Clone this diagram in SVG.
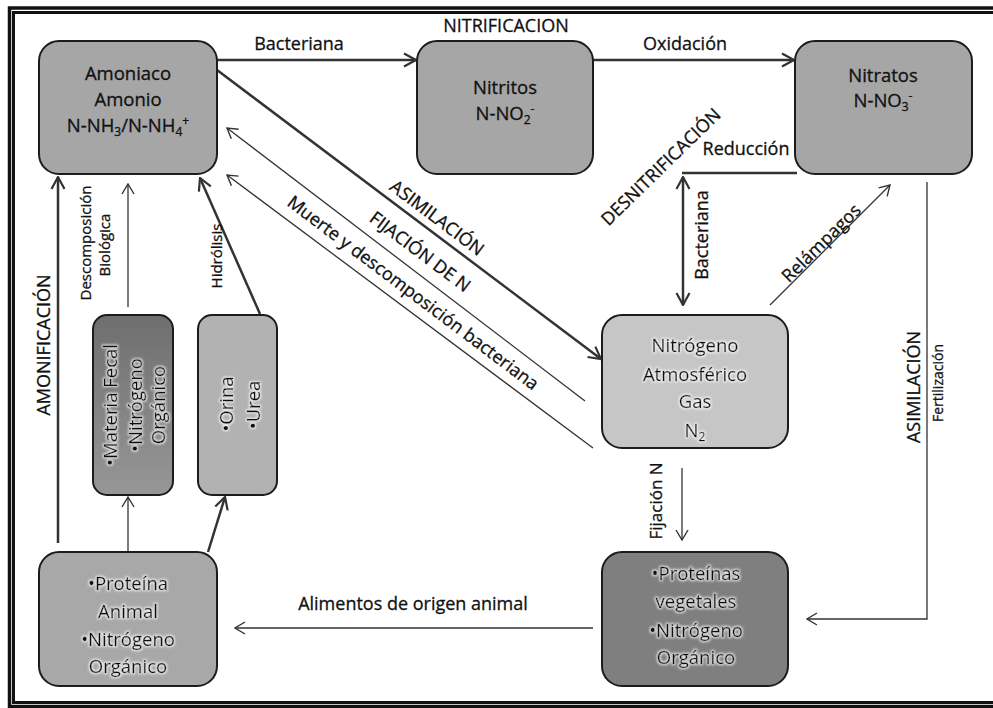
<svg xmlns="http://www.w3.org/2000/svg" width="993" height="708" viewBox="0 0 993 708">
<style>
.node rect{stroke:#1c1c1c;stroke-width:2}
.t{font-family:"Open Sans","Liberation Sans",sans-serif;font-size:18px;fill:#111;stroke:#111;stroke-width:0.3px;text-anchor:middle}
.n{font-size:18.5px}
.s15{font-size:15px}
.s14{font-size:14px}
.s17{font-size:17px}
.sub{font-size:12px}
.c{fill:none;stroke:#333;stroke-linecap:butt}
.thick{stroke-width:2.5}
.thin{stroke-width:1.3}
.frame{fill:none;stroke:#111}
</style>
<defs>
<marker id="ah" viewBox="0 0 14 16" refX="13" refY="8" markerWidth="14" markerHeight="16" orient="auto-start-reverse" markerUnits="userSpaceOnUse">
<path d="M1,1.5 L13,8 L1,14.5" fill="none" stroke="#333" stroke-width="2.2"/>
</marker>
<marker id="at" viewBox="0 0 12 14" refX="11" refY="7" markerWidth="12" markerHeight="14" orient="auto-start-reverse" markerUnits="userSpaceOnUse">
<path d="M1,1 L11,7 L1,13" fill="none" stroke="#333" stroke-width="1.4"/>
</marker>
<linearGradient id="gfecal" x1="0" y1="0" x2="0" y2="1">
<stop offset="0" stop-color="#6e6e6e"/>
<stop offset="1" stop-color="#979797"/>
</linearGradient>
<filter id="glow" x="-10%" y="-30%" width="120%" height="160%">
<feMorphology in="SourceAlpha" operator="dilate" radius="1" result="d"/>
<feGaussianBlur in="d" stdDeviation="1.2" result="b"/>
<feFlood flood-color="#ffffff" flood-opacity="0.75"/>
<feComposite in2="b" operator="in" result="g"/>
<feMerge><feMergeNode in="g"/><feMergeNode in="SourceGraphic"/></feMerge>
</filter>
</defs>
<rect x="0" y="0" width="993" height="708" fill="#fff"/>

<g id="connectors">
<line class="c thick" x1="217" y1="60" x2="416" y2="60" marker-end="url(#ah)"/>
<line class="c thick" x1="593" y1="60" x2="794" y2="60" marker-end="url(#ah)"/>
<line class="c thick" x1="217" y1="70" x2="601" y2="359" marker-end="url(#ah)"/>
<line class="c thin" x1="585" y1="401" x2="227" y2="128" marker-end="url(#at)"/>
<line class="c thin" x1="593" y1="448" x2="227" y2="175" marker-end="url(#at)"/>
<line class="c thick" x1="797" y1="173" x2="682" y2="173"/>
<line class="c thick" x1="683" y1="177" x2="683" y2="305" marker-start="url(#ah)" marker-end="url(#ah)"/>
<line class="c thin" x1="770" y1="305" x2="890" y2="185" marker-end="url(#at)"/>
<polyline class="c thin" points="927,182 927,619 807,619" marker-end="url(#at)"/>
<line class="c thin" x1="682" y1="468" x2="682" y2="540" marker-end="url(#at)"/>
<line class="c thin" x1="593" y1="628" x2="235" y2="628" marker-end="url(#at)"/>
<line class="c thick" x1="58" y1="543" x2="58" y2="177" marker-end="url(#ah)"/>
<line class="c thin" x1="128" y1="307" x2="128" y2="184" marker-end="url(#at)"/>
<line class="c thick" x1="260" y1="314" x2="200" y2="178" marker-end="url(#ah)"/>
<line class="c thin" x1="128" y1="552" x2="128" y2="497" marker-end="url(#at)"/>
<line class="c thick" x1="208" y1="552" x2="225" y2="497" marker-end="url(#ah)"/>

<text class="t" x="299" y="50">Bacteriana</text>
<text class="t" x="506" y="32">NITRIFICACION</text>
<text class="t" x="685" y="50">Oxidación</text>
<text class="t" transform="translate(437,218) rotate(37)" x="0" y="6">ASIMILACIÓN</text>
<text class="t" transform="translate(420,252) rotate(37)" x="0" y="6">FIJACIÓN DE N</text>
<text class="t" transform="translate(413,293) rotate(37)" x="0" y="6">Muerte y descomposición  bacteriana</text>
<text class="t" transform="translate(661,167) rotate(-44.3)" x="0" y="6">DESNITRIFICACIÓN</text>
<text class="t" x="746" y="155">Reducción</text>
<text class="t" transform="translate(708,235) rotate(-90)" x="0" y="0">Bacteriana</text>
<text class="t" transform="translate(827,249) rotate(-44.5)" x="0" y="-2">Relámpagos</text>
<text class="t" transform="translate(920,387) rotate(-90)" x="0" y="0">ASIMILACIÓN</text>
<text class="t s14" transform="translate(943,383) rotate(-90)" x="0" y="0">Fertilización</text>
<text class="t s17" transform="translate(662,501) rotate(-90)" x="0" y="0">Fijación N</text>
<text class="t" x="413" y="610">Alimentos de origen animal</text>
<text class="t" transform="translate(50,345) rotate(-90)" x="0" y="0">AMONIFICACIÓN</text>
<text class="t s15" transform="translate(91,243) rotate(-90)" x="0" y="0">Descomposición</text>
<text class="t s15" transform="translate(110,245) rotate(-90)" x="0" y="0">Biológica</text>
<text class="t s15" transform="translate(222,256) rotate(-90)" x="0" y="0">Hidrólisis</text>
</g>

<g id="amoniaco" class="node">
<rect x="39" y="41" width="178" height="133" rx="20" fill="#a6a6a6"/>
<text class="t n" x="128" y="80">Amoniaco</text>
<text class="t n" x="128" y="106">Amonio</text>
<text class="t n" x="128" y="132">N-NH<tspan class="sub" dy="4">3</tspan><tspan dy="-4">/N-NH</tspan><tspan class="sub" dy="4">4</tspan><tspan class="sub" dy="-11">+</tspan></text>
</g>

<g id="nitritos" class="node">
<rect x="417" y="41" width="176" height="133" rx="20" fill="#a6a6a6"/>
<text class="t n" x="505" y="94">Nitritos</text>
<text class="t n" x="505" y="120">N-NO<tspan class="sub" dy="4">2</tspan><tspan class="sub" dy="-11">-</tspan></text>
</g>

<g id="nitratos" class="node">
<rect x="795" y="41" width="177" height="133" rx="20" fill="#a6a6a6"/>
<text class="t n" x="883" y="82">Nitratos</text>
<text class="t n" x="883" y="107">N-NO<tspan class="sub" dy="4">3</tspan><tspan class="sub" dy="-11">-</tspan></text>
</g>

<g id="nitrogeno-atmosferico" class="node">
<rect x="602" y="315" width="186" height="133" rx="20" fill="#c6c6c6"/>
<g filter="url(#glow)">
<text class="t n" x="695" y="352">Nitrógeno</text>
<text class="t n" x="695" y="381">Atmosférico</text>
<text class="t n" x="695" y="408">Gas</text>
<text class="t n" x="695" y="437">N<tspan class="sub" dy="4">2</tspan></text>
</g>
</g>

<g id="proteinas-vegetales" class="node">
<rect x="602" y="552" width="186" height="134" rx="20" fill="#7f7f7f"/>
<g filter="url(#glow)">
<text class="t n" x="696" y="580">•Proteínas</text>
<text class="t n" x="696" y="608">vegetales</text>
<text class="t n" x="696" y="637">•Nitrógeno</text>
<text class="t n" x="696" y="664">Orgánico</text>
</g>
</g>

<g id="proteina-animal" class="node">
<rect x="39" y="552" width="178" height="134" rx="20" fill="#a8a8a8"/>
<g filter="url(#glow)">
<text class="t n" x="128" y="590">•Proteína</text>
<text class="t n" x="128" y="618">Animal</text>
<text class="t n" x="128" y="646">•Nitrógeno</text>
<text class="t n" x="128" y="673">Orgánico</text>
</g>
</g>

<g id="materia-fecal" class="node">
<rect x="93" y="315" width="80" height="180" rx="14" fill="url(#gfecal)"/>
<g filter="url(#glow)">
<text class="t n" transform="translate(117,405) rotate(-90)" x="0" y="0">•Materia Fecal</text>
<text class="t n" transform="translate(142,405) rotate(-90)" x="0" y="0">•Nitrógeno</text>
<text class="t n" transform="translate(165,405) rotate(-90)" x="0" y="0">Orgánico</text>
</g>
</g>

<g id="orina-urea" class="node">
<rect x="198" y="315" width="79" height="180" rx="14" fill="#b2b2b2"/>
<g filter="url(#glow)">
<text class="t n" transform="translate(233,404) rotate(-90)" x="0" y="0">•Orina</text>
<text class="t n" transform="translate(260,405) rotate(-90)" x="0" y="0">•Urea</text>
</g>
</g>

<rect class="frame" x="9.5" y="8" width="1000" height="698.5" stroke-width="3.5"/>
<rect class="frame" x="13.5" y="12.5" width="1000" height="690" stroke-width="3"/>
</svg>
